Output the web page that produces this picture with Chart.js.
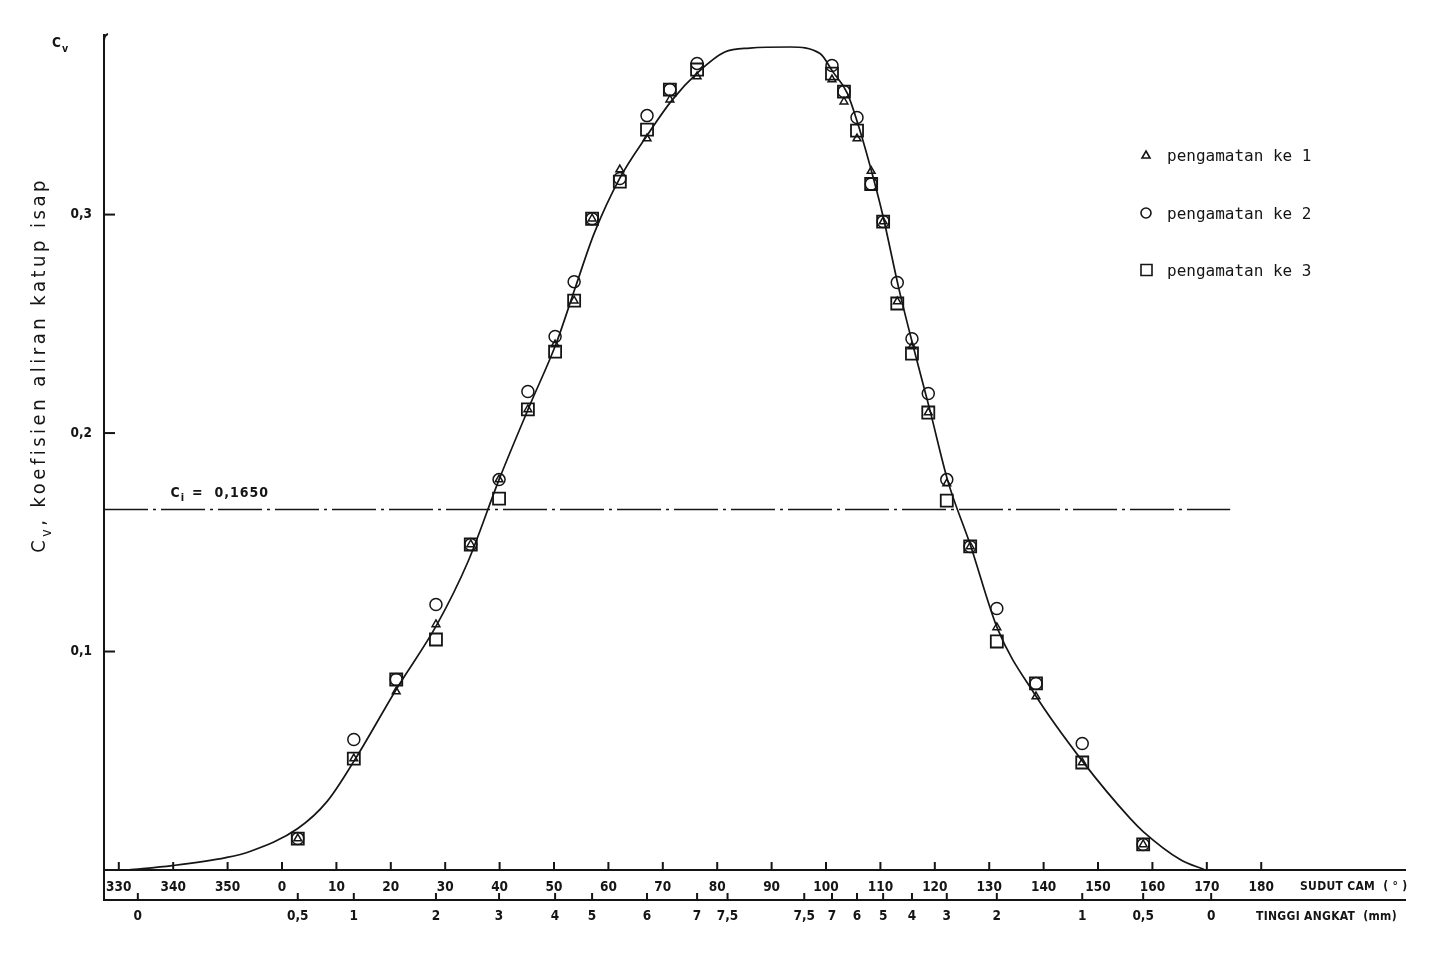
<!DOCTYPE html>
<html><head><meta charset="utf-8">
<script src="https://cdn.jsdelivr.net/npm/chart.js@4.4.1/dist/chart.umd.min.js"></script>
<style>html,body{margin:0;padding:0;background:#fff}#wrap{width:1437px;height:973px}</style>
</head><body><div id="wrap"><canvas id="c" width="1437" height="973"></canvas></div>
<script>
// ---------- data ----------
const camTickAngles = [-30,-20,-10,0,10,20,30,40,50,60,70,80,90,100,110,120,130,140,150,160,170,180];
const liftTickAngles = [-26.5,2.9,13.2,28.3,39.9,50.2,57,67.1,76.3,81.9,96,101.1,105.7,110.5,115.8,122.2,131.4,147.1,158.3,170.8];
const liftTickLabels = ['0','0,5','1','2','3','4','5','6','7','7,5','7,5','7','6','5','4','3','2','1','0,5','0'];
const yTickValues = [0.1,0.2,0.3];
const obsAngles = [2.9,13.2,21,28.3,34.7,39.9,45.2,50.2,53.7,57,62.1,67.1,71.3,76.3,101.1,103.3,105.7,108.3,110.5,113.1,115.8,118.8,122.2,126.5,131.4,138.6,147.1,158.3];
const obs1 = [0.0144,0.0510,0.0817,0.1124,0.149,0.1787,0.2108,0.2405,0.2606,0.2981,0.3206,0.3348,0.3526,0.3632,0.3618,0.3517,0.3348,0.3199,0.2968,0.2602,0.2396,0.2094,0.1769,0.1481,0.1110,0.0794,0.0492,0.0117];
const obs2 = [0.0144,0.0597,0.0872,0.1215,0.149,0.1787,0.2190,0.2442,0.2693,0.2981,0.3165,0.3453,0.3572,0.3692,0.3682,0.3563,0.3444,0.3140,0.2968,0.2689,0.2432,0.2181,0.1787,0.1481,0.1197,0.0854,0.0579,0.0117];
const obs3 = [0.0144,0.0510,0.0872,0.1055,0.149,0.1700,0.2108,0.2373,0.2606,0.2981,0.3151,0.3389,0.3572,0.3664,0.3645,0.3563,0.3384,0.3140,0.2968,0.2593,0.2364,0.2094,0.1691,0.1481,0.1046,0.0854,0.0492,0.0117];
const curveAngles = [-28.3,-20.2,-10.3,-5.9,2.9,8.3,13.2,21.1,28.5,34.2,39.9,45.6,50.4,53.9,57.4,62.1,67.1,71.7,76.5,81.4,86,93.4,98.9,101.3,103.9,106.1,108.8,110.5,113.4,116,119.1,122.4,126.5,131.6,138.4,147.2,155.9,158.3,165.1,169.7];
const curveValues = [0,0.002,0.0057,0.0085,0.019,0.0314,0.0497,0.0831,0.1124,0.1412,0.1787,0.2130,0.2410,0.2665,0.2915,0.3167,0.3362,0.3524,0.3652,0.3744,0.3762,0.3767,0.3737,0.3652,0.3556,0.3396,0.3158,0.2990,0.2660,0.2400,0.2105,0.1780,0.1490,0.1100,0.0803,0.0496,0.0236,0.0176,0.0048,0];
const ciValue = 0.165;
const ciAngles = [-32.72, 174.3];
const seriesLabels = ['pengamatan ke 1','pengamatan ke 2','pengamatan ke 3'];
const xRange = [-32.72, 206.43];
const yRange = [0, 0.3822];

// ---------- style ----------
const INK = '#151515';
const FONT = '"DejaVu Sans Condensed", "Liberation Sans Narrow", "DejaVu Sans", sans-serif';
const MONO = '"DejaVu Sans Mono", "Liberation Mono", monospace';

const pts = arr => obsAngles.map((a,i)=>({x:a,y:arr[i]}));

function line(ctx,x1,y1,x2,y2){ctx.beginPath();ctx.moveTo(x1,y1);ctx.lineTo(x2,y2);ctx.stroke();}
function subText(ctx, base, sub, x, y, size, subSize){
  ctx.font = 'bold '+size+'px '+FONT;
  ctx.fillText(base, x, y);
  let w = ctx.measureText(base).width;
  ctx.font = 'bold '+subSize+'px '+FONT;
  ctx.fillText(sub, x+w+1, y+size*0.35);
  return w + 1 + ctx.measureText(sub).width;
}

const deco = {
  id:'deco',
  afterDraw(chart){
    const {ctx, chartArea:ca, scales} = chart;
    const x = scales.x, x2 = scales.x2, y = scales.y;
    ctx.save();
    ctx.strokeStyle = INK; ctx.fillStyle = INK; ctx.lineWidth = 2;
    y.ticks.forEach(t=>{const py=y.getPixelForValue(t.value); line(ctx,ca.left,py,ca.left+11,py);});
    x.ticks.forEach(t=>{const px=x.getPixelForValue(t.value); line(ctx,px,ca.bottom,px,ca.bottom-8);});
    x2.ticks.forEach(t=>{const px=x2.getPixelForValue(t.value); line(ctx,px,x2.top,px,x2.top-7);});
    line(ctx,ca.left,ca.bottom,ca.left,x2.top+1);
    ctx.beginPath(); ctx.moveTo(ca.left,ca.top+6); ctx.quadraticCurveTo(ca.left,ca.top,ca.left+4,ca.top-1); ctx.stroke();

    ctx.textBaseline = 'alphabetic'; ctx.textAlign = 'left';
    subText(ctx,'C','v',52,47,13.5,10.5);
    const cx = x.getPixelForValue(-20.5), cy = y.getPixelForValue(ciValue)-13;
    const w = subText(ctx,'C','i',cx,cy,14,11);
    ctx.font = 'bold 14px '+FONT;
    ctx.letterSpacing = '1px';
    ctx.fillText('=  0,1650', cx+w+8, cy);
    ctx.font = 'bold 12px '+FONT;
    ctx.letterSpacing = '0.3px';
    ctx.textBaseline = 'middle';
    ctx.fillText('SUDUT CAM  ( \u00B0 )', 1300, (x.top+x.bottom)/2+2);
    ctx.fillText('TINGGI ANGKAT  (mm)', 1256, x2.top+17);
    ctx.letterSpacing = '0px';
    // rotated y title
    ctx.save();
    ctx.translate(40, 365);
    ctx.rotate(-Math.PI/2);
    ctx.textBaseline = 'middle';
    ctx.letterSpacing = '3.5px';
    const title = ', koefisien aliran katup isap';
    ctx.font = '20px '+FONT;
    const tw = ctx.measureText(title).width;
    const cw = ctx.measureText('C').width;
    ctx.font = '14px '+FONT; const vw = ctx.measureText('v').width;
    const total = cw + vw + tw;
    let sx = -total/2;
    ctx.font = '20px '+FONT; ctx.fillText('C', sx, 0); sx += cw;
    ctx.font = '14px '+FONT; ctx.fillText('v', sx, 7); sx += vw;
    ctx.font = '20px '+FONT; ctx.fillText(title, sx, 0);
    ctx.restore();
    // legend
    const ly = [155, 213, 270];
    ctx.lineWidth = 1.6;
    ctx.beginPath(); ctx.moveTo(1146,ly[0]-4); ctx.lineTo(1150,ly[0]+3); ctx.lineTo(1142,ly[0]+3); ctx.closePath(); ctx.stroke();
    ctx.beginPath(); ctx.arc(1146,ly[1],5,0,Math.PI*2); ctx.stroke();
    ctx.beginPath(); ctx.rect(1141,ly[2]-5.5,11,11); ctx.stroke();
    ctx.font = '16px '+MONO; ctx.textBaseline = 'middle';
    seriesLabels.forEach((s,i)=>ctx.fillText(s, 1167, ly[i]+2));
    ctx.restore();
  }
};

const tickFont = {family: FONT, size: 13.5, weight: 'bold'};

new Chart(document.getElementById('c'), {
  type: 'scatter',
  data: {
    datasets: [
      {type:'line', label:'kurva', data: curveAngles.map((a,i)=>({x:a,y:curveValues[i]})), borderColor:INK, borderWidth:1.7, pointRadius:0, cubicInterpolationMode:'monotone', fill:false, order:3},
      {type:'line', label:'Ci', data: ciAngles.map(a=>({x:a,y:ciValue})), borderColor:INK, borderWidth:1.5, borderDash:[44,5,3,5], pointRadius:0, fill:false, order:4},
      {label: seriesLabels[0], data: pts(obs1), pointStyle:'triangle', pointRadius:4.5, borderColor:INK, backgroundColor:'rgba(0,0,0,0)', borderWidth:1.5, order:1},
      {label: seriesLabels[1], data: pts(obs2), pointStyle:'circle', pointRadius:6, borderColor:INK, backgroundColor:'rgba(0,0,0,0)', borderWidth:1.5, order:1},
      {label: seriesLabels[2], data: pts(obs3), pointStyle:'rect', pointRadius:8.5, borderColor:INK, backgroundColor:'rgba(0,0,0,0)', borderWidth:1.8, order:1}
    ]
  },
  options: {
    responsive:false, animation:false, devicePixelRatio:1,
    layout:{padding:{left:25,right:32,top:35,bottom:43}},
    plugins:{legend:{display:false}, tooltip:{enabled:false}},
    scales:{
      x:{type:'linear', position:'bottom', weight:0, min:xRange[0], max:xRange[1],
        afterBuildTicks: s=>{s.ticks = camTickAngles.map(v=>({value:v}));},
        afterFit: s=>{s.height = 30;},
        ticks:{autoSkip:false, maxRotation:0, minRotation:0, padding:9, color:INK, font:tickFont,
          callback: v => String(v<0 ? v+360 : v)},
        grid:{drawOnChartArea:false, drawTicks:false},
        border:{display:true, color:INK, width:2}
      },
      x2:{type:'linear', position:'bottom', weight:1, min:xRange[0], max:xRange[1],
        afterBuildTicks: s=>{s.ticks = liftTickAngles.map(v=>({value:v}));},
        afterFit: s=>{s.height = 30;},
        ticks:{autoSkip:false, maxRotation:0, minRotation:0, padding:8, color:INK, font:tickFont,
          callback: (v,i) => liftTickLabels[i]},
        grid:{drawOnChartArea:false, drawTicks:false},
        border:{display:true, color:INK, width:2}
      },
      y:{type:'linear', position:'left', min:yRange[0], max:yRange[1],
        afterBuildTicks: s=>{s.ticks = yTickValues.map(v=>({value:v}));},
        afterFit: s=>{s.width = 79;},
        ticks:{padding:12, color:INK, font:tickFont, callback: v => v.toFixed(1).replace('.',',')},
        grid:{drawOnChartArea:false, drawTicks:false},
        border:{display:true, color:INK, width:2}
      }
    }
  },
  plugins:[deco]
});
</script>
</body></html>
